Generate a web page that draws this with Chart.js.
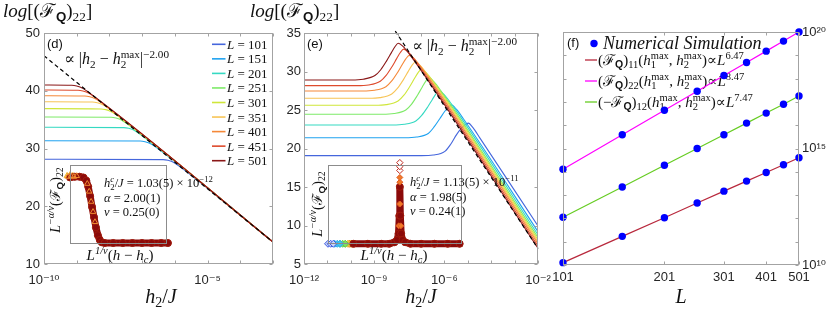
<!DOCTYPE html>
<html>
<head>
<meta charset="utf-8">
<script src="https://cdn.jsdelivr.net/npm/chart.js@4.4.1/dist/chart.umd.min.js"></script>
<style>
  body { margin: 0; background: #fff; }
  #wrap { position: relative; width: 830px; height: 312px; overflow: hidden; background: #fff; }
  canvas { position: absolute; }
</style>
</head>
<body>
<div id="wrap">
  <canvas id="cd" width="282" height="312" style="left:0px;top:0px"></canvas>
  <canvas id="ce" width="320" height="312" style="left:240px;top:0px"></canvas>
  <canvas id="cf" width="290" height="312" style="left:540px;top:0px"></canvas>
  <canvas id="cdi" width="180" height="120" style="left:40px;top:150px"></canvas>
  <canvas id="cei" width="240" height="120" style="left:300px;top:150px"></canvas>
</div>
<script>
// ---- values ----
const sizes = [101, 151, 201, 251, 301, 351, 401, 451, 501];

// (d) log10(h2/J) and log[(F_Q)22] along each curve
const dX = [
  [-10, -6.36, -6.21, -6.11, -6.01, -5.86, -3],
  [-10, -7.06, -6.91, -6.81, -6.71, -6.56, -3],
  [-10, -7.56, -7.41, -7.31, -7.21, -7.06, -3],
  [-10, -7.95, -7.80, -7.70, -7.60, -7.45, -3],
  [-10, -8.26, -8.11, -8.01, -7.91, -7.76, -3],
  [-10, -8.52, -8.37, -8.27, -8.17, -8.02, -3],
  [-10, -8.75, -8.60, -8.50, -8.40, -8.25, -3],
  [-10, -8.96, -8.81, -8.71, -8.61, -8.46, -3],
  [-10, -9.15, -9.00, -8.90, -8.80, -8.65, -3]
];
const dY = [
  [28.13, 28.08, 27.96, 27.78, 27.50, 26.93, 13.8],
  [31.35, 31.30, 31.18, 31.00, 30.72, 30.15, 13.8],
  [33.67, 33.62, 33.50, 33.32, 33.04, 32.47, 13.8],
  [35.45, 35.40, 35.28, 35.10, 34.82, 34.25, 13.8],
  [36.90, 36.85, 36.73, 36.55, 36.27, 35.70, 13.8],
  [38.10, 38.05, 37.93, 37.75, 37.47, 36.90, 13.8],
  [39.14, 39.09, 38.97, 38.79, 38.51, 37.94, 13.8],
  [40.13, 40.08, 39.96, 39.78, 39.50, 38.93, 13.8],
  [41.00, 40.95, 40.83, 40.65, 40.37, 39.80, 13.8]
];
const dGuideX = [-10, -3];
const dGuideY = [46.05, 13.8];

// (e)
const eX = [
  [-12, -6.98, -6.48, -5.98, -5.73, -5.48, -5.28, -5.13, -4.98, -4.78, -4.48, -2],
  [-12, -7.69, -7.19, -6.69, -6.44, -6.19, -5.99, -5.84, -5.69, -5.49, -5.19, -2],
  [-12, -8.22, -7.72, -7.22, -6.97, -6.72, -6.52, -6.37, -6.22, -6.02, -5.72, -2],
  [-12, -8.65, -8.15, -7.65, -7.40, -7.15, -6.95, -6.80, -6.65, -6.45, -6.15, -2],
  [-12, -8.98, -8.48, -7.98, -7.73, -7.48, -7.28, -7.13, -6.98, -6.78, -6.48, -2],
  [-12, -9.25, -8.75, -8.25, -8.00, -7.75, -7.55, -7.40, -7.25, -7.05, -6.75, -2],
  [-12, -9.50, -9.00, -8.50, -8.25, -8.00, -7.80, -7.65, -7.50, -7.30, -7.00, -2],
  [-12, -9.74, -9.24, -8.74, -8.49, -8.24, -8.04, -7.89, -7.74, -7.54, -7.24, -2],
  [-12, -9.97, -9.47, -8.97, -8.72, -8.47, -8.27, -8.12, -7.97, -7.77, -7.47, -2]
];
const eY = [
  [19.07, 19.07, 19.15, 19.62, 20.55, 21.80, 22.60, 23.05, 23.30, 22.70, 21.35, 9.93],
  [21.40, 21.40, 21.49, 21.95, 22.80, 23.90, 24.80, 25.35, 25.65, 25.10, 23.86, 9.20],
  [23.05, 23.05, 23.14, 23.58, 24.30, 25.36, 26.34, 27.06, 27.50, 27.02, 25.86, 8.80],
  [24.44, 24.44, 24.54, 25.01, 25.77, 26.92, 27.96, 28.72, 29.20, 28.68, 27.49, 8.45],
  [25.61, 25.61, 25.70, 26.17, 26.92, 28.05, 29.08, 29.83, 30.30, 29.85, 28.70, 8.15],
  [26.52, 26.52, 26.61, 27.08, 27.83, 28.95, 29.98, 30.73, 31.20, 30.81, 29.68, 7.90],
  [27.47, 27.47, 27.56, 28.03, 28.77, 29.88, 30.90, 31.64, 32.10, 31.71, 30.59, 7.65],
  [28.16, 28.16, 28.25, 28.73, 29.49, 30.62, 31.67, 32.43, 32.90, 32.51, 31.39, 7.35],
  [28.90, 28.90, 29.00, 29.47, 30.23, 31.38, 32.42, 33.18, 33.66, 33.27, 32.15, 7.05]
];
const eGuideX = [-8.1, -2];
const eGuideY = [35.25, 7.0];

// (f)
const fL = [101, 151, 201, 251, 301, 351, 401, 451, 501];
const f11 = [1.26e10, 1.70e11, 1.07e12, 4.57e12, 1.48e13, 3.98e13, 9.33e13, 2.00e14, 3.98e14];
const f22 = [1.29e14, 3.89e15, 4.37e16, 2.88e17, 1.35e18, 4.90e18, 1.51e19, 4.07e19, 1.00e20];
const f12 = [1.12e12, 2.24e13, 1.91e14, 1.00e15, 3.89e15, 1.23e16, 3.31e16, 7.94e16, 1.78e17];

// insets (data collapse, arbitrary units 0..100)
const diRedX = [0, 5, 10, 14, 17, 19, 21, 23, 25, 27, 29, 31, 33, 36, 45, 55, 65, 75, 85, 95, 102];
const diRedY = [84, 85, 85, 84, 80, 72, 60, 46, 33, 20, 10, 4, 1, 0, 0, 0, 0, 0, 0, 0, 0];
const diOrgX = [-2, 1, 4, 7, 18, 20, 22, 24, 26];
const diOrgY = [85, 86, 85, 86, 76, 66, 53, 40, 27];
const diYelX = [-3, 0, 3];
const diYelY = [86, 87, 86];
const diBluX = [12, 16, 18];
const diBluY = [86, 84, 79];

const eiRedX = [19, 30, 40, 46, 50, 52, 53, 53.6, 54, 54.4, 55, 56, 58, 62, 70, 80, 90, 99];
const eiRedY = [-1, -1, -1, -1, 1, 4, 12, 35, 72, 35, 12, 4, 1, -1, -1, -1, -1, -1];
const eiBluX = [0, 2, 4];
const eiCyaX = [5, 7, 9];
const eiGrnX = [9, 11, 13];
const eiYelX = [13, 15, 17];
const eiOrgX = [16, 18, 20];
const eiLowY = [-1, -1, -1];
const eiTopX = [53.2, 53.8, 54, 54, 54.2, 54.8];
const eiTopY = [22, 50, 78, 84, 50, 22];
const eiPeakX = [54, 54, 54];
const eiPeakY = [93, 98, 103];

// ticks
const dTicksX = [-10, -9, -8, -7, -6, -5, -4, -3];
const dLabelsX = [-10, -5];
const dTicksY = [10, 20, 30, 40, 50];
const eTicksX = [-12, -11, -10, -9, -8, -7, -6, -5, -4, -3, -2];
const eLabelsX = [-12, -9, -6, -2];
const eTicksY = [5, 10, 15, 20, 25, 30, 35];
const fTicksX = [101, 201, 301, 401, 501];
const fTicksY = [10, 11, 12, 13, 14, 15, 16, 17, 18, 19, 20];
const fLabelsY = [10, 15, 20];

// ---- styling ----
const SERIF = '"Liberation Serif", "DejaVu Serif", serif';
const SANS = '"Liberation Sans", "DejaVu Sans", Arial, sans-serif';
const INK = '#111';
const AXIS = '#262626';
const BOX = '#a3a3a3';
const jet = ['#4566dc', '#1fa2f0', '#35d9c2', '#7eea68', '#cfe63a', '#f7c456', '#f58838', '#de4a2c', '#8a1717'];
const RED = '#b8283c', MAG = '#ff00ff', GRN = '#66cc22', DOT = '#0000ff';

const SUP = { '0': '⁰', '1': '¹', '2': '²', '3': '³', '4': '⁴', '5': '⁵', '6': '⁶', '7': '⁷', '8': '⁸', '9': '⁹', '-': '⁻' };
function pow10(e) { return '10' + String(e).replace(/./g, c => SUP[c]); }
const ex = v => Math.round(Math.log10(v));

// rich text: segs = [text, style]; style: i italic, r roman, b bold sans, _ sub, ^ sup, < stack on previous
function rich(ctx, segs, x, y, size, align) {
  const items = [];
  let cx = 0, lastStart = 0;
  segs.forEach(([t, st]) => {
    let fs = size, dy = 0;
    if (st.includes('_')) { fs = size * 0.7; dy = size * 0.22; }
    if (st.includes('^')) { fs = size * 0.7; dy = -size * 0.4; }
    const face = st.includes('b') ? `bold ${fs}px ${SANS}` :
      st.includes('i') ? `italic ${fs}px ${SERIF}` : `${fs}px ${SERIF}`;
    ctx.font = face;
    const w = ctx.measureText(t).width;
    const sx = st.includes('<') ? lastStart : cx;
    items.push({ t, face, sx, dy });
    lastStart = sx;
    cx = Math.max(cx, sx + w);
  });
  const off = align === 'center' ? -cx / 2 : align === 'right' ? -cx : 0;
  ctx.textAlign = 'left';
  ctx.textBaseline = 'alphabetic';
  items.forEach(it => { ctx.font = it.face; ctx.fillText(it.t, x + off + it.sx, y + it.dy); });
}

const TITLE = [['log', 'i'], ['[(', 'r'], ['ℱ', 'r'], ['Q', '_b'], [')', 'r'], ['22', '_r'], [']', 'r']];
const XLAB = [['h', 'i'], ['2', '_r'], ['/', 'r'], ['J', 'i']];
const PROP = [['∝ ', 'r'], ['|', 'r'], ['h', 'i'], ['2', '_r'], [' − ', 'r'], ['h', 'i'], ['2', '_r'], ['max', '^r<'], ['|', 'r'], ['−2.00', '^r']];
const INS_Y = [['L', 'i'], ['−α/ν', '^i'], ['(', 'r'], ['ℱ', 'r'], ['Q', '_b'], [')', 'r'], ['22', '_r']];
const INS_X = [['L', 'i'], ['1/ν', '^i'], ['(', 'r'], ['h', 'i'], [' − ', 'r'], ['h', 'i'], ['c', '_i'], [')', 'r']];
function hmaxArgs() {
  return [['(', 'r'], ['h', 'i'], ['1', '_r'], ['max', '^r<'], [', ', 'r'], ['h', 'i'], ['2', '_r'], ['max', '^r<'], [')', 'r'], ['∝', 'r'], ['L', 'i']];
}
const F11TXT = [['(', 'r'], ['ℱ', 'r'], ['Q', '_b'], [')', 'r'], ['11', '_r'], ...hmaxArgs(), ['6.47', '^r']];
const F22TXT = [['(', 'r'], ['ℱ', 'r'], ['Q', '_b'], [')', 'r'], ['22', '_r'], ...hmaxArgs(), ['8.47', '^r']];
const F12TXT = [['(−', 'r'], ['ℱ', 'r'], ['Q', '_b'], [')', 'r'], ['12', '_r'], ...hmaxArgs(), ['7.47', '^r']];

// ---- helpers ----
function curve(xs, ys, color, extra) {
  return Object.assign({
    data: xs.map((x, i) => ({ x: Math.pow(10, x), y: ys[i] })),
    showLine: true, borderColor: color, borderWidth: 1.1, pointRadius: 0,
    cubicInterpolationMode: 'monotone', fill: false
  }, extra || {});
}
function pts(xs, ys, extra) {
  return Object.assign({
    data: xs.map((x, i) => ({ x: x, y: ys[i] })),
    showLine: false, clip: false, pointBorderWidth: 1
  }, extra);
}

// frame with inward ticks, taken from the scales' own ticks
function frame(chart) {
  const { ctx, chartArea: a, scales } = chart;
  const l = Math.round(a.left) + 0.5, r = Math.round(a.right) - 0.5;
  const t = Math.round(a.top) + 0.5, b = Math.round(a.bottom) - 0.5;
  ctx.save();
  ctx.strokeStyle = BOX;
  ctx.lineWidth = 1;
  ctx.beginPath();
  scales.x.ticks.forEach(tk => {
    const p = Math.round(scales.x.getPixelForValue(tk.value)) + 0.5;
    ctx.moveTo(p, b); ctx.lineTo(p, b - 3);
    ctx.moveTo(p, t); ctx.lineTo(p, t + 3);
  });
  scales.y.ticks.forEach(tk => {
    const p = Math.round(scales.y.getPixelForValue(tk.value)) + 0.5;
    ctx.moveTo(l, p); ctx.lineTo(l + 3, p);
    ctx.moveTo(r, p); ctx.lineTo(r - 3, p);
  });
  ctx.stroke();
  ctx.strokeRect(l, t, r - l, b - t);
  ctx.restore();
}

function makeChart(id, datasets, scales, padding, hooks) {
  const canvas = document.getElementById(id);
  const ox = parseFloat(canvas.style.left), oy = parseFloat(canvas.style.top);
  const run = (chart, fn) => {
    if (!fn) return;
    const ctx = chart.ctx;
    ctx.save();
    ctx.translate(-ox, -oy);
    ctx.fillStyle = INK;
    fn(ctx, chart);
    ctx.restore();
  };
  return new Chart(canvas, {
    type: 'scatter',
    data: { datasets },
    options: {
      responsive: false, animation: false, events: [],
      layout: { padding },
      plugins: { legend: { display: false }, tooltip: { enabled: false } },
      scales
    },
    plugins: [{
      id: 'art_' + id,
      beforeDatasetsDraw(chart) { run(chart, hooks.before); },
      afterDatasetsDraw(chart) {
        if (hooks.frame) frame(chart);
        run(chart, hooks.after);
      }
    }]
  });
}

const tickFont = { family: SANS, size: 13 };
const noGrid = { display: false, drawTicks: false };
function logX(min, max, list, labels, h) {
  return {
    type: 'logarithmic', min, max,
    afterBuildTicks: s => { s.ticks = list.map(e => ({ value: Math.pow(10, e) })); },
    afterFit: s => { s.height = h; },
    grid: noGrid, border: { display: false },
    ticks: { font: tickFont, color: AXIS, padding: 9, autoSkip: false, maxRotation: 0,
      callback: v => labels.includes(ex(v)) ? pow10(ex(v)) : '' }
  };
}
function linY(min, max, list, w, pad) {
  return {
    min, max,
    afterBuildTicks: s => { s.ticks = list.map(v => ({ value: v })); },
    afterFit: s => { s.width = w; },
    grid: noGrid, border: { display: false },
    ticks: { font: tickFont, color: AXIS, padding: pad }
  };
}

// ---- (d) ----
const dSets = sizes.map((L, i) => curve(dX[i], dY[i], jet[i], { label: 'L = ' + L, order: sizes.length - i }));
dSets.push(curve(dGuideX, dGuideY, '#000', { borderDash: [4, 3], borderWidth: 1.2, order: 0, cubicInterpolationMode: 'default' }));
makeChart('cd', dSets, {
  x: logX(1e-10, 1e-3, dTicksX, dLabelsX, 48),
  y: linY(10, 50, dTicksY, 44, 4)
}, { left: 0, top: 33, right: 4, bottom: 0 }, {
  frame: true,
  after(ctx) {
    sizes.forEach((L, i) => {
      const y = 44.3 + i * 14.55;
      ctx.strokeStyle = jet[i];
      ctx.lineWidth = 1.6;
      ctx.beginPath(); ctx.moveTo(212, y); ctx.lineTo(225.5, y); ctx.stroke();
      rich(ctx, [['L', 'i'], [' = ' + L, 'r']], 227, y + 4.5, 13, 'left');
    });
    ctx.font = `13px ${SANS}`;
    ctx.fillText('(d)', 47, 48);
    rich(ctx, PROP, 64, 64, 16, 'left');
    rich(ctx, TITLE, 3, 17, 19, 'left');
    rich(ctx, XLAB, 161, 303, 20, 'center');
  }
});

// ---- (e) ----
const eSets = sizes.map((L, i) => curve(eX[i], eY[i], jet[i], { label: 'L = ' + L, order: sizes.length - i }));
eSets.push(curve(eGuideX, eGuideY, '#000', { borderDash: [4, 3], borderWidth: 1.2, order: 0, cubicInterpolationMode: 'default', clip: 4 }));
makeChart('ce', eSets, {
  x: logX(1e-12, 1e-2, eTicksX, eLabelsX, 48),
  y: linY(5, 35, eTicksY, 64, 3)
}, { left: 0, top: 33, right: 22, bottom: 0 }, {
  frame: true,
  after(ctx) {
    ctx.font = `13px ${SANS}`;
    ctx.fillText('(e)', 307, 48);
    rich(ctx, PROP, 412, 51, 16, 'left');
    rich(ctx, TITLE, 250, 17, 19, 'left');
    rich(ctx, XLAB, 421, 303, 20, 'center');
  }
});

// ---- (f) ----
const fLine = (ys, c, o) => ({
  data: fL.map((L, i) => ({ x: L, y: ys[i] })), showLine: true, borderColor: c, borderWidth: 1.2,
  pointRadius: 0, clip: false, order: o
});
const fDots = (ys, o) => ({
  data: fL.map((L, i) => ({ x: L, y: ys[i] })), showLine: false, pointRadius: 3.7,
  pointBackgroundColor: DOT, pointBorderWidth: 0, clip: false, order: o
});
makeChart('cf', [
  fLine(f11, RED, 5), fLine(f22, MAG, 4), fLine(f12, GRN, 3),
  fDots(f11, 2), fDots(f22, 1), fDots(f12, 0)
], {
  x: {
    type: 'logarithmic', min: 101, max: 501,
    afterBuildTicks: s => { s.ticks = fTicksX.map(v => ({ value: v })); },
    afterFit: s => { s.height = 47; },
    grid: noGrid, border: { display: false },
    ticks: { font: tickFont, color: AXIS, padding: 5, autoSkip: false, maxRotation: 0, callback: v => String(v) }
  },
  y: {
    type: 'logarithmic', position: 'right', min: 1e10, max: 1e20,
    afterBuildTicks: s => { s.ticks = fTicksY.map(e => ({ value: Math.pow(10, e) })); },
    afterFit: s => { s.width = 31; },
    grid: noGrid, border: { display: false },
    ticks: { font: tickFont, color: AXIS, padding: 3, autoSkip: false,
      callback: v => fLabelsY.includes(ex(v)) ? pow10(ex(v)) : '' }
  }
}, { left: 23, top: 32, right: 0, bottom: 0 }, {
  frame: true,
  before(ctx) {
    ctx.font = `13px ${SANS}`;
    ctx.fillText('(f)', 567, 47);
    ctx.fillStyle = DOT;
    ctx.beginPath(); ctx.arc(594, 43.5, 3.7, 0, 2 * Math.PI); ctx.fill();
    ctx.fillStyle = INK;
    rich(ctx, [['Numerical Simulation', 'i']], 603, 49, 18, 'left');
    [[RED, F11TXT, 60], [MAG, F22TXT, 81], [GRN, F12TXT, 102]].forEach(([c, segs, y]) => {
      ctx.strokeStyle = c;
      ctx.lineWidth = 1.3;
      ctx.beginPath(); ctx.moveTo(585, y); ctx.lineTo(597, y); ctx.stroke();
      rich(ctx, segs, 598, y + 5, 15, 'left');
    });
  },
  after(ctx) {
    rich(ctx, [['L', 'i']], 681, 303, 20, 'center');
  }
});

// ---- insets ----
const hidden = { display: false, min: 0, max: 100 };
function insetBox(chart) {
  const { ctx, chartArea: a } = chart;
  ctx.save();
  ctx.strokeStyle = '#8c8c8c';
  ctx.lineWidth = 1;
  ctx.strokeRect(Math.round(a.left) + 0.5, Math.round(a.top) + 0.5, Math.round(a.right - a.left), Math.round(a.bottom - a.top));
  ctx.restore();
}
const band = (xs, ys) => pts(xs, ys, {
  showLine: true, borderColor: '#8b0a0a', borderWidth: 7, borderJoinStyle: 'round', borderCapStyle: 'round',
  pointRadius: 3.5, pointBackgroundColor: '#8b0a0a', pointBorderColor: '#a01c0c', pointBorderWidth: 1, order: 1
});

makeChart('cdi', [
  pts(diYelX, diYelY, { pointStyle: 'triangle', pointRadius: 3.5, pointBackgroundColor: '#f5d64a', pointBorderColor: '#f0b030', order: 4 }),
  pts(diBluX, diBluY, { showLine: true, borderColor: '#5a86e0', borderWidth: 1.5, pointRadius: 0, order: 3 }),
  band(diRedX, diRedY),
  pts(diOrgX, diOrgY, { pointStyle: 'triangle', pointRadius: 3.2, pointBackgroundColor: 'rgba(0,0,0,0)', pointBorderColor: '#f08a30', order: 0 })
], { x: hidden, y: hidden }, { left: 30, top: 15, right: 54, bottom: 27 }, {
  after(ctx, chart) {
    ctx.save(); ctx.translate(40, 150); insetBox(chart); ctx.restore();
    rich(ctx, [['h', 'i'], ['2', '_r'], ['c', '^i<'], ['/', 'r'], ['J', 'i'], [' = 1.03(5) × 10', 'r'], ['−12', '^r']], 104, 187, 12.5, 'left');
    rich(ctx, [['α', 'i'], [' = 2.00(1)', 'r']], 104, 202, 12.5, 'left');
    rich(ctx, [['ν', 'i'], [' = 0.25(0)', 'r']], 104, 216, 12.5, 'left');
    rich(ctx, INS_X, 120, 260, 15, 'center');
    ctx.save(); ctx.translate(60, 200); ctx.rotate(-Math.PI / 2);
    rich(ctx, INS_Y, 0, 0, 14, 'center');
    ctx.restore();
  }
});

makeChart('cei', [
  pts(eiBluX, eiLowY, { pointStyle: 'rectRot', pointRadius: 3.5, pointBackgroundColor: '#c8d4f8', pointBorderColor: '#3c5ae0', order: 5 }),
  pts(eiCyaX, eiLowY, { pointStyle: 'rectRot', pointRadius: 3.5, pointBackgroundColor: '#40c8e8', pointBorderColor: '#30a8f0', order: 5 }),
  pts(eiGrnX, eiLowY, { pointStyle: 'rectRot', pointRadius: 3.5, pointBackgroundColor: '#7ee060', pointBorderColor: '#5cc850', order: 5 }),
  pts(eiYelX, eiLowY, { pointStyle: 'rectRot', pointRadius: 3.5, pointBackgroundColor: '#f0d040', pointBorderColor: '#e8b830', order: 5 }),
  pts(eiOrgX, eiLowY, { pointStyle: 'rectRot', pointRadius: 3.5, pointBackgroundColor: '#f08a30', pointBorderColor: '#e06020', order: 5 }),
  band(eiRedX, eiRedY),
  pts(eiTopX, eiTopY, { pointStyle: 'rectRot', pointRadius: 3, pointBackgroundColor: '#f07a28', pointBorderColor: '#e05a20', order: 0 }),
  pts(eiPeakX, eiPeakY, { pointStyle: 'rectRot', pointRadius: 3.2, pointBackgroundColor: '#fff', pointBorderColor: '#c02a20', order: 0 })
], { x: hidden, y: hidden }, { left: 28, top: 15, right: 79, bottom: 27 }, {
  after(ctx, chart) {
    ctx.save(); ctx.translate(300, 150); insetBox(chart); ctx.restore();
    rich(ctx, [['h', 'i'], ['2', '_r'], ['c', '^i<'], ['/', 'r'], ['J', 'i'], [' = 1.13(5) × 10', 'r'], ['−11', '^r']], 410, 186, 12.5, 'left');
    rich(ctx, [['α', 'i'], [' = 1.98(5)', 'r']], 410, 201, 12.5, 'left');
    rich(ctx, [['ν', 'i'], [' = 0.24(1)', 'r']], 410, 215, 12.5, 'left');
    rich(ctx, INS_X, 394, 260, 15, 'center');
    ctx.save(); ctx.translate(322, 204); ctx.rotate(-Math.PI / 2);
    rich(ctx, INS_Y, 0, 0, 14, 'center');
    ctx.restore();
  }
});
</script>
</body>
</html>
